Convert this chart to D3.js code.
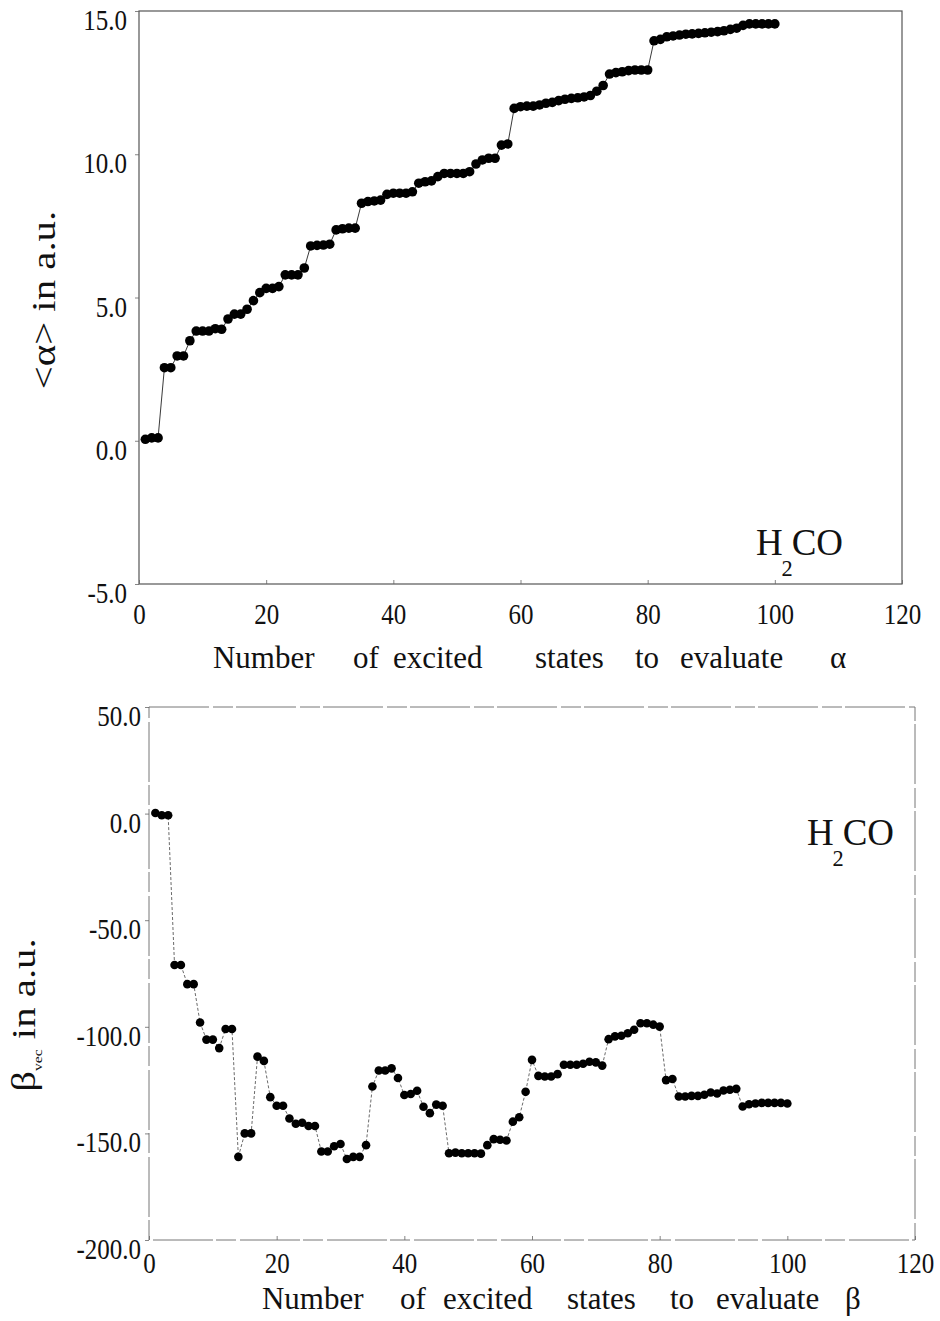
<!DOCTYPE html>
<html><head><meta charset="utf-8">
<script src="https://cdn.jsdelivr.net/npm/d3@7"></script>
<style>
body{margin:0;background:#fff;}
svg{display:block;}
svg text{font-family:"Liberation Serif","DejaVu Serif",serif !important;fill:#111;}
</style></head>
<body><svg id="c" width="940" height="1321"></svg>
<script>
// ---- data ----
const states = d3.range(1, 101);
const alphaValues = [0.05,0.10,0.10,2.55,2.55,2.96,2.96,3.49,3.83,3.83,
3.83,3.91,3.89,4.25,4.42,4.42,4.59,4.89,5.17,5.32,
5.32,5.38,5.79,5.79,5.79,6.03,6.80,6.82,6.83,6.86,
7.36,7.40,7.42,7.42,8.29,8.35,8.37,8.40,8.60,8.64,
8.64,8.64,8.69,8.99,9.04,9.07,9.22,9.33,9.33,9.33,
9.33,9.39,9.66,9.80,9.86,9.86,10.32,10.36,11.60,11.66,
11.68,11.68,11.72,11.78,11.81,11.87,11.92,11.95,11.97,12.00,
12.05,12.20,12.40,12.80,12.85,12.88,12.92,12.94,12.94,12.94,
13.96,14.01,14.10,14.13,14.16,14.19,14.20,14.22,14.24,14.26,
14.28,14.31,14.36,14.40,14.50,14.55,14.55,14.55,14.55,14.55];
const betaValues = [0.3,-0.8,-0.8,-71,-71,-80,-80,-98,-106,-106,
-110,-101,-101,-161,-150,-150,-114,-116,-133,-137,
-137,-143,-145.5,-145,-146.5,-146.5,-158.5,-158.5,-156,-155,
-162,-161,-161,-155.5,-128,-120.5,-120.5,-119.5,-124,-132,
-131.5,-130,-137.5,-140.5,-136.5,-137,-159.3,-159,-159.3,-159.3,
-159.3,-159.5,-155.5,-152.7,-153,-153.3,-144.5,-142.4,-130.5,-115.5,
-123,-123.3,-123.3,-122.2,-117.8,-117.8,-117.8,-117.3,-116.4,-116.7,
-118.2,-105.8,-104.5,-104.2,-103,-101.4,-98.3,-98.3,-99,-99.9,
-125,-124.5,-132.7,-132.7,-132.4,-132.4,-131.9,-130.8,-131.3,-129.9,
-129.5,-129.1,-137.4,-136.3,-136,-135.7,-135.7,-135.7,-135.7,-136];
const xTicks = [0,20,40,60,80,100,120];
const xTickLabels = ["0","20","40","60","80","100","120"];
const alphaTicks = [-5,0,5,10,15];
const alphaTickLabels = ["-5.0","0.0","5.0","10.0","15.0"];
const betaTicks = [-200,-150,-100,-50,0,50];
const betaTickLabels = ["-200.0","-150.0","-100.0","-50.0","0.0","50.0"];
const alphaTitleWords = ["Number","of","excited","states","to","evaluate","\u03B1"];
const betaTitleWords = ["Number","of","excited","states","to","evaluate","\u03B2"];

const svg = d3.select("#c");
const STRETCH = 1.2;

function panel(cfg){
  const g = svg.append("g");
  const x = d3.scaleLinear().domain([0,120]).range([cfg.left,cfg.right]);
  const y = d3.scaleLinear().domain(cfg.ydom).range([cfg.bottom,cfg.top]);
  g.append("rect").attr("x",cfg.left).attr("y",cfg.top)
    .attr("width",cfg.right-cfg.left).attr("height",cfg.bottom-cfg.top)
    .attr("fill","none").attr("stroke",cfg.frameColor).attr("stroke-width",cfg.frameWidth)
    .attr("stroke-dasharray",cfg.frameDash||null);
  const xa = d3.axisBottom(x).tickValues(xTicks).tickFormat((d,i)=>xTickLabels[i]).tickSize(-4);
  const gx = g.append("g").attr("transform",`translate(0,${cfg.bottom})`).call(xa);
  gx.select(".domain").remove();
  gx.selectAll("line").attr("stroke","#666").attr("stroke-width",0.8);
  gx.selectAll("text").attr("font-size",25).attr("y",0).attr("dy","0.35em")
    .attr("transform",`translate(0,${cfg.xlabOff}) scale(1,${STRETCH})`);
  const ya = d3.axisLeft(y).tickValues(cfg.yticks).tickFormat((d,i)=>cfg.ylabels[i]).tickSize(4);
  const gy = g.append("g").attr("transform",`translate(${cfg.left},0)`).call(ya);
  gy.select(".domain").remove();
  gy.selectAll("line").attr("stroke","#666").attr("stroke-width",0.8);
  gy.selectAll("text").attr("font-size",25).attr("x",0).attr("dy","0.35em")
    .attr("transform",`translate(${-cfg.ypad},8) scale(1,${STRETCH})`);
  const data = states.map((s,i)=>({s, v:cfg.values[i]}));
  g.append("path").datum(data)
    .attr("d",d3.line().x(d=>x(d.s)).y(d=>y(d.v)))
    .attr("fill","none").attr("stroke",cfg.lineColor).attr("stroke-width",cfg.lineWidth)
    .attr("stroke-dasharray",cfg.lineDash||null);
  g.selectAll("circle.p").data(data).join("circle")
    .attr("cx",d=>x(d.s)).attr("cy",d=>y(d.v)).attr("r",cfg.r).attr("fill","#000");
  return {g,x,y};
}

const topPanel = panel({left:139,right:902,top:11,bottom:584,ydom:[-5,15],
  yticks:alphaTicks,ylabels:alphaTickLabels,ypad:12,xlabOff:29,values:alphaValues,
  frameColor:"#555",frameWidth:1.2,lineColor:"#222",lineWidth:0.9,r:4.8});
const botPanel = panel({left:149,right:915,top:707,bottom:1240,ydom:[-200,50],
  yticks:betaTicks,ylabels:betaTickLabels,ypad:8,xlabOff:22,values:betaValues,
  frameColor:"#777",frameWidth:1,frameDash:"60,4,20,3",lineColor:"#444",lineWidth:0.8,lineDash:"3,2",r:4.3});

// horizontal axis titles, words laid out as in the reference
function title(words, xs, cy){
  const t = svg.append("text").attr("font-size",31)
    .attr("transform",`translate(0,${cy}) scale(1,1.05)`);
  words.forEach((w,i)=>t.append("tspan").attr("x",xs[i]).attr("y",0).attr("dy","0.35em").text(w));
}
title(alphaTitleWords,[213,353,393,535,635,680,830],657);
title(betaTitleWords,[262,400,443,567,670,716,845],1298);

// rotated y titles
svg.append("text").attr("transform",`translate(43,300) rotate(-90) scale(${STRETCH},1)`)
  .attr("text-anchor","middle").attr("dy","0.35em").attr("font-size",34).text("<\u03B1> in a.u.");

const bl = svg.append("text").attr("transform",`translate(23,1015) rotate(-90) scale(${STRETCH},1)`)
  .attr("text-anchor","middle").attr("dy","0.35em").attr("font-size",34);
bl.append("tspan").text("\u03B2");
bl.append("tspan").attr("font-size",13).attr("dy",7).text("vec");
bl.append("tspan").attr("dy",-7).text(" in a.u.");

// H2CO labels
function h2co(xp, yp){
  const t = svg.append("text").attr("font-size",33)
    .attr("transform",`translate(${xp},${yp}) scale(1.12,1.12)`);
  t.append("tspan").attr("x",0).attr("y",0).text("H");
  t.append("tspan").attr("font-size",20).attr("dy",19).attr("dx",-1).text("2");
  t.append("tspan").attr("dy",-19).attr("dx",-1).text("CO");
}
h2co(756,555);
h2co(807,845);
</script></body></html>
